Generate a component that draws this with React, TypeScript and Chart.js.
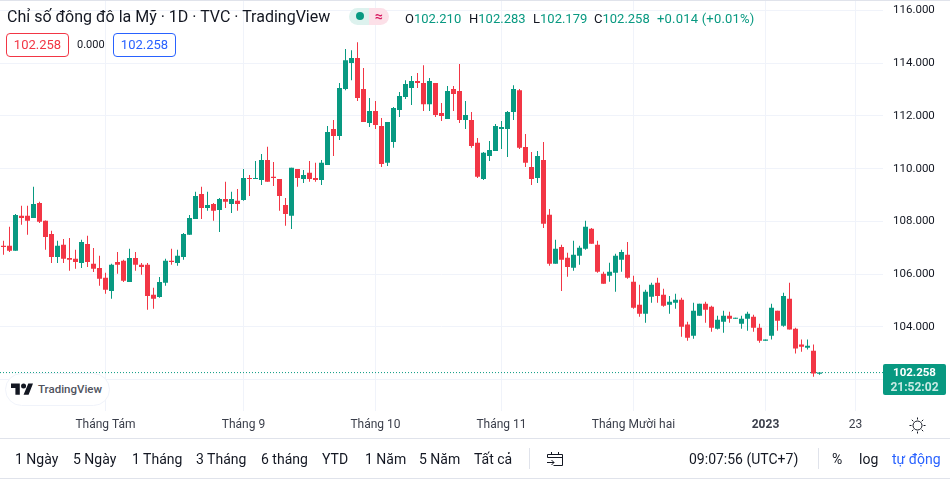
import React, { useEffect, useRef } from 'react';
import Chart from 'chart.js/auto';

const opens = [
  107.07,107.07,106.88,108.21,108.21,108.13,108.70,108.02,107.52,106.65,
  107.11,106.61,106.58,106.42,107.14,106.39,106.23,105.86,105.36,106.46,
  106.50,105.70,106.61,106.35,106.35,105.21,105.13,105.67,106.50,106.42,
  106.65,107.49,108.09,109.04,108.51,108.66,108.43,108.85,108.66,108.78,
  108.81,109.65,109.61,109.57,110.33,109.69,109.61,108.62,108.21,109.99,
  109.61,109.84,109.65,109.57,110.14,111.51,111.24,113.02,114.01,114.20,
  113.02,111.73,112.19,111.62,110.22,111.01,112.23,112.72,113.06,113.33,
  113.25,112.45,113.25,112.11,111.89,113.02,112.95,111.85,111.85,110.98,
  109.61,110.48,110.67,111.51,111.51,112.15,112.98,110.82,110.06,109.65,
  110.33,108.25,106.39,107.03,106.62,106.24,106.69,106.96,107.72,107.11,
  106.01,105.93,106.05,106.54,106.73,105.71,104.83,104.49,105.14,105.67,
  105.21,104.83,104.91,105.02,104.08,103.66,104.42,104.87,104.76,103.92,
  104.19,104.42,104.30,104.11,104.30,104.38,103.96,103.47,103.66,104.61,
  104.04,105.06,103.92,103.32,103.20,103.09,102.21,
];
const highs = [
  107.26,107.79,108.28,108.59,108.59,109.31,108.74,108.03,107.64,107.26,
  107.33,107.37,106.92,107.30,107.45,106.99,106.69,106.05,106.39,106.84,
  106.54,106.96,106.84,106.42,106.42,105.48,105.89,106.58,106.96,106.92,
  107.56,108.24,109.12,109.31,109.12,108.70,108.89,109.50,109.12,109.23,
  109.99,109.76,110.29,110.56,110.83,110.25,109.61,108.89,110.03,109.99,
  109.95,110.29,110.22,110.33,111.62,111.85,113.25,114.54,114.50,114.80,
  113.82,112.68,112.57,111.92,111.77,112.34,112.91,113.36,113.52,113.63,
  113.93,113.44,113.25,112.49,113.14,113.14,113.97,112.57,112.15,111.16,
  110.63,111.05,111.70,111.81,112.19,113.17,113.02,111.32,110.63,110.67,
  111.01,108.47,107.30,107.11,106.81,107.26,107.07,108.02,107.75,107.26,
  106.09,106.43,106.77,106.92,107.22,105.93,105.59,105.40,105.67,105.86,
  105.44,105.17,105.25,105.10,104.19,104.91,104.87,104.95,104.80,104.42,
  104.61,104.57,104.34,104.42,104.57,104.45,104.11,103.51,104.87,104.61,
  105.29,105.67,103.96,103.51,103.51,103.32,102.283,
];
const lows = [
  106.73,106.84,106.88,107.87,107.49,108.13,107.94,106.92,106.42,106.42,
  106.42,106.12,106.20,106.23,106.27,106.08,105.55,105.25,105.06,106.01,
  105.70,105.70,106.12,105.97,104.64,104.68,105.10,105.55,106.35,106.31,
  106.54,107.49,108.09,108.09,108.40,108.02,107.60,108.51,108.32,108.40,
  108.78,108.96,109.61,109.38,109.50,109.34,108.40,107.83,107.71,109.31,
  109.46,109.50,109.50,109.38,110.14,110.48,111.09,112.98,113.36,112.57,
  111.77,111.58,111.51,110.06,110.10,110.79,111.96,112.64,112.42,113.06,
  112.19,112.19,111.96,111.81,111.89,112.19,111.73,111.51,110.79,109.65,
  109.57,110.29,110.67,110.75,110.44,111.85,110.75,110.06,109.38,109.46,
  107.75,106.31,106.39,105.36,105.90,106.12,106.35,106.92,107.15,106.05,
  105.63,105.71,105.33,106.09,105.82,104.68,104.38,104.15,104.91,104.91,
  104.76,104.49,104.68,103.62,103.47,103.54,104.42,104.15,103.81,103.89,
  103.77,104.15,104.30,103.92,103.85,103.81,103.39,103.47,103.51,103.85,
  104.00,103.89,102.98,103.05,103.13,102.10,102.179,
];
const closes = [
  107.03,106.88,108.24,108.13,108.02,108.66,107.98,107.41,106.65,107.07,
  106.58,106.54,106.46,107.22,106.46,106.20,105.82,105.40,106.35,106.35,
  105.74,106.61,106.35,106.27,105.17,105.06,105.70,106.50,106.46,106.69,
  107.52,108.13,108.96,108.51,108.62,108.40,108.85,108.74,108.85,108.66,
  109.65,109.61,109.65,110.33,109.50,109.65,108.96,108.28,110.03,109.65,
  109.76,109.61,109.57,110.22,111.39,111.24,113.06,114.12,114.20,112.68,
  111.77,112.19,111.66,110.18,111.77,112.30,112.76,113.21,113.33,113.25,
  112.45,113.33,112.04,112.00,112.95,112.83,111.85,112.04,110.86,109.69,
  110.60,110.71,111.62,111.58,112.15,113.02,110.79,110.22,109.61,110.48,
  107.91,106.39,106.96,106.54,106.27,106.73,107.00,107.79,107.15,106.09,
  105.63,106.09,106.69,106.84,105.86,104.72,104.49,105.33,105.59,105.17,
  104.80,104.95,105.02,104.00,103.58,104.61,104.87,104.64,103.96,104.26,
  104.42,104.30,104.34,104.30,104.49,103.96,103.47,103.51,104.72,104.23,
  105.17,103.89,103.17,103.24,103.28,102.22,102.258,
];

const lastPrice = 102.258;
const priceTicks = [102, 104, 106, 108, 110, 112, 114, 116];
const timeTickIndex = [17, 40, 62, 83, 105, 127, 142];
const timeTickLabels = ['Tháng Tám', 'Tháng 9', 'Tháng 10', 'Tháng 11', 'Tháng Mười hai', '2023', '23'];
const ranges = ['1 Ngày', '5 Ngày', '1 Tháng', '3 Tháng', '6 tháng', 'YTD', '1 Năm', '5 Năm', 'Tất cả'];
const rangeLefts = [15, 73, 132, 196, 261, 322, 365, 419, 474];
const ohlcLabels = ['O', 'H', 'L', 'C'];
const ohlcValues = ['102.210', '102.283', '102.179', '102.258'];
const ohlcLefts = [405, 469, 533, 594];

const UP = '#089981';
const DOWN = '#F23645';
const GRID = '#F0F3FA';
const TEXT = '#131722';
const FONT = 'Roboto, sans-serif';

const X_MIN = -3.5 / 6;
const X_MAX = (883 - 3.5) / 6;
const PX_PER_UNIT = 26.34;

const colorAt = (i: number) => (closes[i] >= opens[i] ? UP : DOWN);

const abs = (left: number, top: number, extra: React.CSSProperties = {}): React.CSSProperties => ({
  position: 'absolute',
  left,
  top,
  whiteSpace: 'nowrap',
  fontFamily: FONT,
  color: TEXT,
  ...extra,
});

const App: React.FC = () => {
  const canvas = useRef<HTMLCanvasElement>(null);

  useEffect(() => {
    if (!canvas.current) return;
    document.body.style.margin = '0';

    const chart = new Chart(canvas.current, {
      type: 'bar',
      data: {
        datasets: [
          {
            label: 'wick',
            data: highs.map((h, i) => ({ x: i, y: [lows[i], h] })) as any,
            backgroundColor: opens.map((_, i) => colorAt(i)),
            barThickness: 1,
            grouped: false,
            inflateAmount: 0,
          },
          {
            label: 'body',
            data: opens.map((o, i) => ({ x: i, y: [o, closes[i]] })) as any,
            backgroundColor: opens.map((_, i) => colorAt(i)),
            barThickness: 5,
            grouped: false,
            inflateAmount: 0,
            minBarLength: 1,
          },
          {
            type: 'line',
            label: 'last',
            data: [
              { x: X_MIN, y: lastPrice },
              { x: X_MAX, y: lastPrice },
            ] as any,
            borderColor: UP,
            borderWidth: 1,
            borderDash: [1, 2],
            pointRadius: 0,
          },
        ],
      },
      options: {
        responsive: false,
        animation: false,
        layout: { padding: { top: 1, left: 0, right: 0, bottom: 0 } },
        plugins: { legend: { display: false }, tooltip: { enabled: false } },
        scales: {
          x: {
            type: 'linear',
            offset: false,
            min: X_MIN,
            max: X_MAX,
            grid: { color: GRID, offset: false, drawTicks: false },
            border: { display: false },
            afterBuildTicks: (scale: any) => {
              scale.ticks = timeTickIndex.map((value) => ({ value }));
            },
            afterFit: (scale: any) => {
              scale.height = 68.5;
              scale.paddingLeft = 0;
              scale.paddingRight = 0;
            },
            ticks: {
              autoSkip: false,
              maxRotation: 0,
              padding: 7,
              color: '#3a3e4a',
              font: (ctx: any) => ({
                family: FONT,
                size: 12,
                weight: ctx.tick && ctx.tick.value === 127 ? 'bold' : 'normal',
              }),
              callback: (value: any) => timeTickLabels[timeTickIndex.indexOf(value)],
            },
          },
          y: {
            type: 'linear',
            position: 'right',
            min: 114 - (410.5 - 63.3) / PX_PER_UNIT,
            max: 114 + (63.3 - 1) / PX_PER_UNIT,
            grid: { color: GRID, drawTicks: false },
            border: { display: false },
            afterBuildTicks: (scale: any) => {
              scale.ticks = priceTicks.map((value) => ({ value }));
            },
            afterFit: (scale: any) => {
              scale.width = 67;
              scale.paddingTop = 0;
              scale.paddingBottom = 0;
            },
            ticks: {
              padding: 10,
              color: TEXT,
              font: { family: FONT, size: 11.5 },
              callback: (value: any) => Number(value).toFixed(3),
            },
          },
        },
      },
    });

    return () => {
      chart.destroy();
    };
  }, []);

  return (
    <div style={{ position: 'absolute', left: 0, top: 0, width: 950, height: 479, overflow: 'hidden', background: '#fff' }}>
      <canvas ref={canvas} width={950} height={479} style={{ display: 'block', position: 'absolute', left: 0, top: 0 }} />

      <div style={{ position: 'absolute', left: 0, top: 0, width: 950, height: 1, background: '#E0E3EB' }} />
      <div style={{ position: 'absolute', left: 0, top: 438, width: 950, height: 1, background: '#E0E3EB' }} />
      <div style={{ position: 'absolute', left: 0, top: 478, width: 950, height: 1, background: '#E0E3EB' }} />

      <div style={abs(7, 7, { fontSize: 16, lineHeight: '20px' })}>Chỉ số đông đô la Mỹ · 1D · TVC · TradingView</div>

      <div style={{ position: 'absolute', left: 349, top: 8, width: 20, height: 17, background: '#DDF2EE', borderRadius: '9px 0 0 9px' }}>
        <div style={{ position: 'absolute', left: 7, top: 4, width: 8, height: 8, borderRadius: 4, background: UP }} />
      </div>
      <div style={abs(369, 8, { width: 20, height: 17, background: '#FCE0E8', borderRadius: '0 9px 9px 0', color: '#D81B60', fontSize: 14, lineHeight: '16px', textAlign: 'center', fontWeight: 'bold' })}>≈</div>

      {ohlcLabels.map((label, i) => (
        <div key={label} style={abs(ohlcLefts[i], 11, { fontSize: 13, lineHeight: '16px' })}>
          {label}
          <span style={{ color: UP }}>{ohlcValues[i]}</span>
        </div>
      ))}
      <div style={abs(657, 11, { fontSize: 13, lineHeight: '16px', letterSpacing: 0.2, color: UP })}>+0.014 (+0.01%)</div>

      <div style={abs(6, 33, { width: 63, height: 24, boxSizing: 'border-box', border: `1px solid ${DOWN}`, borderRadius: 4, color: DOWN, fontSize: 13, lineHeight: '22px', textAlign: 'center' })}>102.258</div>
      <div style={abs(77, 38, { fontSize: 11, lineHeight: '14px' })}>0.000</div>
      <div style={abs(113, 33, { width: 63, height: 24, boxSizing: 'border-box', border: '1px solid #2962FF', borderRadius: 4, color: '#2962FF', fontSize: 13, lineHeight: '22px', textAlign: 'center' })}>102.258</div>

      <div style={{ position: 'absolute', left: 5, top: 373, width: 105, height: 33, boxSizing: 'border-box', border: '1px solid #F0F3FA', borderRadius: 17, background: '#fff' }} />
      <svg style={{ position: 'absolute', left: 11, top: 383 }} width="22" height="13" viewBox="0 0 35 19">
        <path fill="#131722" d="M14 18H7V7H0V0h14v18zM28 18h-8L27.5 0H35l-7 18z" />
        <circle fill="#131722" cx="20" cy="4" r="4" />
      </svg>
      <div style={abs(38, 382, { fontSize: 11.5, lineHeight: '14px', color: '#50535E', fontWeight: 500 })}>TradingView</div>

      <div style={{ position: 'absolute', left: 883, top: 364, width: 63, height: 31, background: UP, borderRadius: 2 }} />
      <div style={abs(883, 365, { width: 63, textAlign: 'center', color: '#fff', fontWeight: 'bold', fontSize: 11.5, lineHeight: '14px' })}>102.258</div>
      <div style={abs(883, 380, { width: 63, textAlign: 'center', color: '#C8EAE4', fontWeight: 'bold', fontSize: 12, lineHeight: '14px' })}>21:52:02</div>

      <svg style={{ position: 'absolute', left: 909, top: 417 }} width="17" height="17" viewBox="0 0 17 17" fill="none" stroke={TEXT} strokeWidth="1">
        <circle cx="8.5" cy="8.5" r="4.5" />
        <path d="M8.5 0.5v2M8.5 14.5v2M0.5 8.5h2M14.5 8.5h2M2.8 2.8l1.5 1.5M12.7 12.7l1.5 1.5M2.8 14.2l1.5-1.5M12.7 4.3l1.5-1.5" />
      </svg>

      {ranges.map((label, i) => (
        <div key={label} style={abs(rangeLefts[i], 450, { fontSize: 14, lineHeight: '18px' })}>{label}</div>
      ))}
      <div style={{ position: 'absolute', left: 529, top: 448, width: 1, height: 21, background: '#E0E3EB' }} />
      <svg style={{ position: 'absolute', left: 546, top: 451 }} width="18" height="16" viewBox="0 0 18 16" fill="none" stroke={TEXT} strokeWidth="1">
        <path d="M1.5 6.5V3.5h15v11h-9M1.5 6.5h15M5.5 1v3M12.5 1v3M1 11.5h7M5.5 9l2.5 2.5L5.5 14" />
      </svg>
      <div style={abs(689, 450, { fontSize: 14, lineHeight: '18px' })}>09:07:56 (UTC+7)</div>
      <div style={{ position: 'absolute', left: 818, top: 448, width: 1, height: 21, background: '#E0E3EB' }} />
      <div style={abs(832, 450, { fontSize: 14, lineHeight: '18px' })}>%</div>
      <div style={abs(859, 450, { fontSize: 14, lineHeight: '18px' })}>log</div>
      <div style={abs(892, 450, { fontSize: 14, lineHeight: '18px', color: '#2962FF' })}>tự động</div>
    </div>
  );
};

export default App;
